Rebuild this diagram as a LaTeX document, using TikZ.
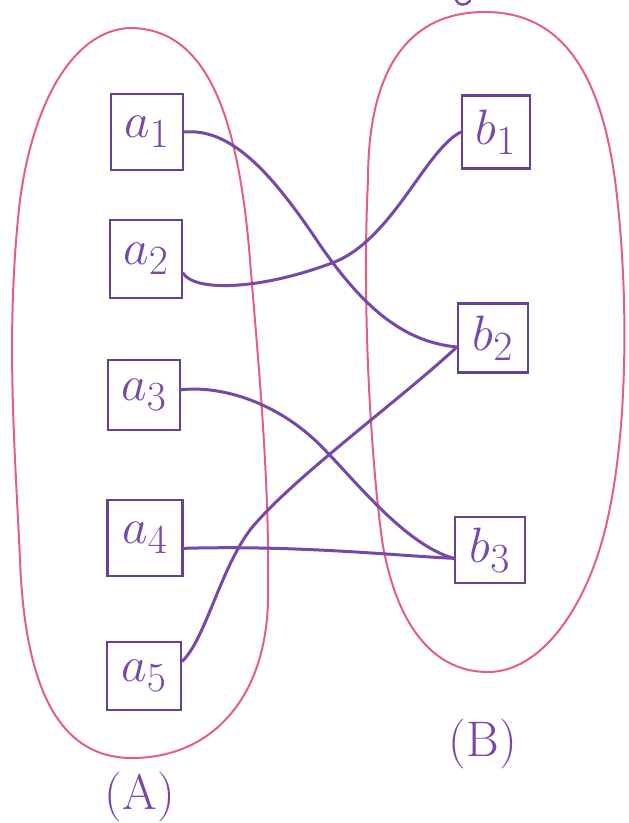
\documentclass[tikz,border=0pt]{standalone}
\usepackage{tikz}
\definecolor{blobpink}{RGB}{228,92,135}
\definecolor{linepurple}{RGB}{118,72,170}
\definecolor{boxpurple}{RGB}{100,65,150}
\begin{document}
\begin{tikzpicture}[x=0.5pt,y=-0.5pt,
  elem/.style={draw=boxpurple,line width=1.1pt,inner sep=0pt,text=linepurple,
    font=\fontsize{29}{34}\selectfont},
  blob/.style={draw=blobpink,line width=1pt},
  link/.style={draw=linepurple,line width=1.5pt,line cap=round},
  lbl/.style={text=linepurple,font=\fontsize{25}{30}\selectfont}]
\useasboundingbox (0,0) rectangle (628,823);
% blobs
\draw[blob] (132,28) .. controls (205,30) and (238,110) .. (250,260)
  .. controls (258,360) and (270,480) .. (268,600)
  .. controls (266,700) and (210,758) .. (132,758)
  .. controls (60,758) and (25,690) .. (20,560)
  .. controls (15,450) and (5,330) .. (20,200)
  .. controls (35,90) and (80,28) .. (132,28) -- cycle;
\draw[blob] (485,12) .. controls (560,12) and (600,70) .. (615,180)
  .. controls (628,280) and (630,430) .. (605,530)
  .. controls (585,610) and (540,672) .. (488,672)
  .. controls (430,672) and (395,620) .. (382,540)
  .. controls (370,450) and (362,300) .. (368,180)
  .. controls (368,90) and (395,12) .. (485,12) -- cycle;
% fragment at top
\draw[link,line width=1.2pt] (456,0) .. controls (458,6) and (466,6) .. (470,1);
% boxes
\node[elem,minimum width=36pt,minimum height=38pt] (a1) at (147,132) {$a_1$};
\node[elem,minimum width=36pt,minimum height=39pt] (a2) at (146,259) {$a_2$};
\node[elem,minimum width=36pt,minimum height=35pt] (a3) at (144,395) {$a_3$};
\node[elem,minimum width=37.5pt,minimum height=38pt] (a4) at (145,538) {$a_4$};
\node[elem,minimum width=37pt,minimum height=34pt] (a5) at (144,676) {$a_5$};
\node[elem,minimum width=34pt,minimum height=36.5pt] (b1) at (496,132) {$b_1$};
\node[elem,minimum width=35pt,minimum height=34.5pt] (b2) at (493,338) {$b_2$};
\node[elem,minimum width=35pt,minimum height=33pt] (b3) at (490,550) {$b_3$};
% connectors
\draw[link] (a1.east) .. controls (230,128) and (270,170) .. (320,245) .. controls (365,310) and (405,342) .. (b2.194);
\draw[link] (a2.-21) .. controls (195,292) and (260,290) .. (332,263) .. controls (392,241) and (425,150) .. (b1.west);
\draw[link] (a3.8) .. controls (225,385) and (280,405) .. (320,445) .. controls (355,480) and (405,545) .. (b3.193);
\draw[link] (a4.-15) .. controls (300,545) and (400,556) .. (b3.193);
\draw[link] (a5.21) .. controls (205,640) and (220,570) .. (250,530) .. controls (290,480) and (400,400) .. (b2.194);
% labels
\node[lbl] (la) at (140,797) {(A)};
\node[lbl] (lb) at (483,744) {(B)};
\end{tikzpicture}
\end{document}
